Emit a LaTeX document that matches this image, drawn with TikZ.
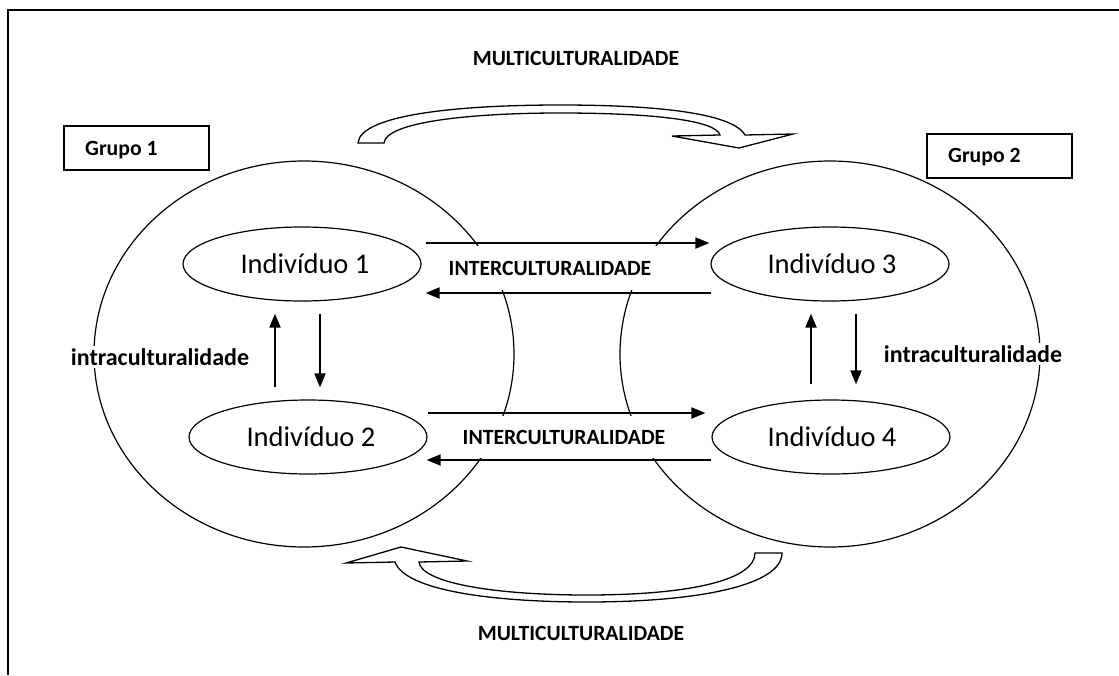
\documentclass[tikz,border=0pt]{standalone}
\usepackage{fontspec}
\setmainfont{Carlito}
\usetikzlibrary{shapes.geometric,arrows.meta}
\begin{document}
\begin{tikzpicture}[x=1pt,y=-1pt,
  grp/.style={draw,ellipse,line width=1.2pt,minimum width=420pt,minimum height=386pt,inner sep=0pt},
  indiv/.style={draw,ellipse,line width=1.2pt,minimum width=238pt,minimum height=74pt,inner sep=0pt,font=\fontsize{28.5}{33}\selectfont},
  lbl/.style={font=\bfseries\fontsize{21.7}{25}\selectfont,inner sep=2pt},
  intra/.style={font=\bfseries\fontsize{24}{28}\selectfont,inner sep=2pt,fill=white},
  gbox/.style={draw,line width=1.2pt,fill=white,minimum width=145pt,minimum height=44pt,inner sep=0pt},
  arr/.style={line width=2pt,-{Triangle[length=14pt,width=11pt]}},
  block/.style={line width=1.3pt,fill=white,line join=miter}]
\useasboundingbox (0,0) rectangle (1119,675);
% frame
\draw[line width=1.6pt] (8,675) -- (8,10) -- (1119,10);
% group circles
\node[grp] (g1) at (304,354) {};
\node[grp] (g2) at (830,354) {};
% individuals
\node[indiv] (ind1) at (302,264) {\hspace*{6pt}Indivíduo 1};
\node[indiv] (ind2) at (308,437) {\hspace*{6pt}Indivíduo 2};
\node[indiv] (ind3) at (830,264) {\hspace*{4pt}Indivíduo 3};
\node[indiv] (ind4) at (831,437) {\hspace*{2pt}Indivíduo 4};
% group boxes
\node[gbox] (b1) at (136.5,148) {};
\node[lbl,anchor=west] (t1) at (83,150) {Grupo 1};
\node[gbox] (b2) at (999.5,156) {};
\node[lbl,anchor=west] (t2) at (946,157) {Grupo 2};
% labels
\node[lbl] (m1) at (576,58) {MULTICULTURALIDADE};
\node[lbl] (m2) at (581,633) {MULTICULTURALIDADE};
\node[lbl,fill=white,minimum width=222pt,minimum height=44pt] (ic1) at (550,268) {INTERCULTURALIDADE};
\node[lbl,fill=white,minimum width=222pt,minimum height=42pt] (ic2) at (564,437) {INTERCULTURALIDADE};
\node[intra] (ia1) at (160,357) {intraculturalidade};
\node[intra] (ia2) at (973,354) {intraculturalidade};
% horizontal arrows
\draw[arr] ([xshift=4pt,yshift=21pt]ind1.east) -- ([xshift=-1pt,yshift=21pt]ind3.west);
\draw[arr] ([xshift=1pt,yshift=-29pt]ind3.west) -- ([xshift=4pt,yshift=-29pt]ind1.east);
\draw[arr] ([yshift=24pt]ind2.east) -- ([xshift=-6pt,yshift=24pt]ind4.west);
\draw[arr] ([yshift=-23pt]ind4.west) -- ([xshift=-1pt,yshift=-23pt]ind2.east);
% vertical arrows
\draw[arr] ([xshift=-33pt,yshift=12pt]ind2.north) -- ([xshift=-27pt,yshift=-12pt]ind1.south);
\draw[arr] ([xshift=18pt,yshift=-12pt]ind1.south) -- ([xshift=12pt,yshift=12pt]ind2.north);
\draw[arr] ([xshift=-20pt,yshift=15pt]ind4.north) -- ([xshift=-19pt,yshift=-12pt]ind3.south);
\draw[arr] ([xshift=26pt,yshift=-12pt]ind3.south) -- ([xshift=25pt,yshift=15pt]ind4.north);
% top curved block arrow
\draw[block] (358,143) -- (384,143)
  .. controls (386,122) and (470,113) .. (560,113)
  .. controls (650,113) and (716,120) .. (720,135)
  -- (672,136) -- (739,148) -- (793,134) -- (745,135)
  .. controls (732,112) and (650,105) .. (560,105)
  .. controls (450,105) and (360,116) .. (358,143) -- cycle;
% bottom curved block arrow
\draw[block] (395,562)
  .. controls (405,590) and (490,602) .. (587,602)
  .. controls (700,602) and (782,585) .. (782,553)
  -- (755,553)
  .. controls (755,580) and (690,595) .. (587,595)
  .. controls (490,595) and (421,582) .. (419,562)
  -- (467,561) -- (401,547) -- (346,563) -- cycle;
\end{tikzpicture}
\end{document}
